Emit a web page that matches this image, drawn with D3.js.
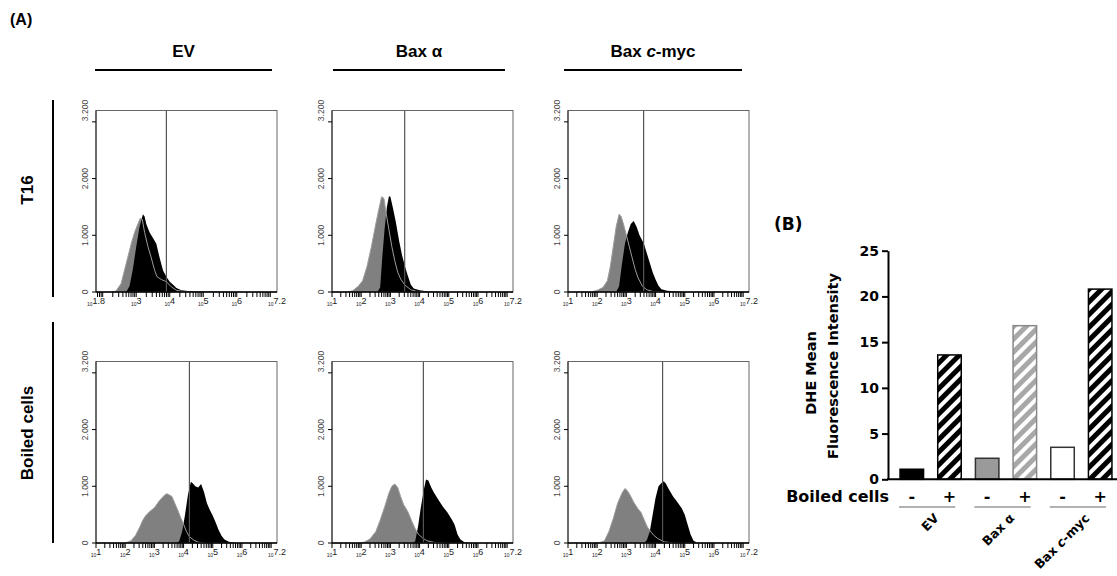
<!DOCTYPE html>
<html>
<head>
<meta charset="utf-8">
<script src="https://cdn.jsdelivr.net/npm/d3@7"></script>
<style>
  body { margin: 0; background: #fff; }
  svg { display: block; font-family: "Liberation Sans", Arial, sans-serif; }
</style>
</head>
<body>
<svg width="1117" height="576"></svg>
<script>
// ---- data: flow histograms, [log10 fluorescence, cell count] ----
const columns = ["EV", "Bax α", "Bax c-myc"];
const rows = ["T16", "Boiled cells"];
const logRanges = [[1.8, 7.2], [1, 7.2], [1, 7.2], [1, 7.2], [1, 7.2], [1, 7.2]];
const gateExp = [3.9, 3.49, 3.59, 4.2, 4.13, 4.24];
const xLabelExp = [
  [1.8, 3, 4, 5, 6, 7.2], [1, 2, 3, 4, 5, 6, 7.2], [1, 2, 3, 4, 5, 6, 7.2],
  [1, 2, 3, 4, 5, 6, 7.2], [1, 2, 3, 4, 5, 6, 7.2], [1, 2, 3, 4, 5, 6, 7.2]
];
const yTickVals = [0, 1000, 2000, 3000];
const yLabelVals = [0, 1000, 2000, 3200];
const yLabels = ["0", "1.000", "2.000", "3.200"];

const evT16Gray = [[2.3,0],[2.4,20],[2.55,150],[2.7,500],[2.85,850],[2.95,1050],[3.05,1200],[3.12,1300],[3.18,1280],[3.25,1050],[3.35,800],[3.45,600],[3.55,380],[3.62,270],[3.75,220],[3.9,180],[4.05,90],[4.2,30],[4.4,8],[4.6,0]];
const evT16Black = [[2.7,0],[2.8,100],[2.9,400],[3.0,800],[3.1,1150],[3.2,1370],[3.25,1330],[3.3,1200],[3.4,1050],[3.5,950],[3.6,850],[3.7,600],[3.8,380],[3.9,270],[4.0,180],[4.1,130],[4.2,70],[4.35,30],[4.6,15],[5.0,10],[5.5,5],[6.0,0]];
const baxT16Gray = [[1.5,0],[1.7,20],[1.9,100],[2.05,200],[2.2,450],[2.35,800],[2.5,1200],[2.6,1450],[2.7,1680],[2.78,1650],[2.85,1400],[2.95,1100],[3.05,800],[3.15,550],[3.25,350],[3.35,230],[3.5,120],[3.7,40],[3.9,10],[4.2,0]];
const baxT16Black = [[2.55,0],[2.65,80],[2.72,600],[2.8,1100],[2.88,1500],[2.95,1690],[3.0,1680],[3.08,1500],[3.18,1250],[3.3,900],[3.4,650],[3.5,450],[3.6,280],[3.7,130],[3.8,60],[4.0,30],[4.3,10],[4.8,0]];
const mycT16Gray = [[1.8,0],[2.0,30],[2.2,80],[2.35,200],[2.45,450],[2.55,800],[2.65,1150],[2.75,1370],[2.82,1330],[2.9,1200],[3.0,1000],[3.1,800],[3.2,600],[3.3,400],[3.4,250],[3.55,100],[3.7,40],[3.9,10],[4.2,0]];
const mycT16Black = [[2.65,0],[2.75,100],[2.85,500],[2.95,850],[3.05,1050],[3.15,1200],[3.25,1250],[3.35,1150],[3.45,1000],[3.6,850],[3.75,600],[3.9,350],[4.0,220],[4.1,110],[4.2,50],[4.4,20],[4.7,10],[5.0,0]];
const evBoilGray = [[2.0,0],[2.2,40],[2.35,130],[2.5,280],[2.6,400],[2.7,480],[2.85,560],[3.0,620],[3.15,730],[3.3,820],[3.42,870],[3.5,850],[3.6,820],[3.7,700],[3.8,580],[3.9,450],[4.0,330],[4.1,200],[4.2,110],[4.35,50],[4.5,15],[4.7,0]];
const evBoilBlack = [[3.75,0],[3.85,30],[3.95,200],[4.05,500],[4.15,850],[4.25,1080],[4.32,1050],[4.4,1000],[4.5,980],[4.6,1040],[4.7,900],[4.8,700],[4.9,580],[5.0,480],[5.1,360],[5.2,230],[5.3,130],[5.4,60],[5.55,20],[5.8,0]];
const baxBoilGray = [[1.9,0],[2.1,15],[2.3,70],[2.5,200],[2.65,400],[2.8,630],[2.95,880],[3.05,1000],[3.15,1040],[3.25,980],[3.35,820],[3.45,680],[3.6,550],[3.72,400],[3.85,250],[3.95,160],[4.1,90],[4.25,40],[4.5,10],[4.8,0]];
const baxBoilBlack = [[3.75,0],[3.85,30],[3.95,300],[4.05,650],[4.15,950],[4.22,1120],[4.3,1100],[4.4,980],[4.5,880],[4.65,760],[4.8,640],[4.95,540],[5.1,420],[5.2,320],[5.3,150],[5.4,60],[5.55,10],[5.8,0]];
const mycBoilGray = [[1.9,0],[2.1,10],[2.25,40],[2.4,200],[2.55,430],[2.7,700],[2.85,880],[2.95,960],[3.02,930],[3.12,850],[3.25,720],[3.4,600],[3.5,540],[3.6,420],[3.72,280],[3.85,190],[3.95,130],[4.1,70],[4.3,20],[4.6,0]];
const mycBoilBlack = [[3.6,0],[3.7,50],[3.8,200],[3.9,500],[4.0,800],[4.1,1000],[4.2,1060],[4.28,1090],[4.35,1050],[4.45,950],[4.6,820],[4.75,720],[4.9,610],[5.0,500],[5.1,320],[5.2,150],[5.3,40],[5.45,0]];

const grayHists = [evT16Gray, baxT16Gray, mycT16Gray, evBoilGray, baxBoilGray, mycBoilGray];
const blackHists = [evT16Black, baxT16Black, mycT16Black, evBoilBlack, baxBoilBlack, mycBoilBlack];

// ---- data: panel B ----
const barGroups = ["EV", "Bax α", "Bax c-myc"];
const barIds = ["EV-", "EV+", "Bax-", "Bax+", "myc-", "myc+"];
const boiledSigns = ["-", "+", "-", "+", "-", "+"];
const dheMeans = [1.1, 13.6, 2.3, 16.8, 3.5, 20.8];
const yTicksB = [0, 5, 10, 15, 20, 25];

const svg = d3.select("svg");

// hatch patterns
const defs = svg.append("defs");
function hatch(id, color) {
  const p = defs.append("pattern").attr("id", id)
    .attr("patternUnits", "userSpaceOnUse").attr("width", 9).attr("height", 9)
    .attr("patternTransform", "rotate(45)");
  p.append("rect").attr("width", 9).attr("height", 9).attr("fill", "#fff");
  p.append("rect").attr("width", 5).attr("height", 9).attr("fill", color);
}
hatch("hatchBlack", "#000");
hatch("hatchGray", "#a8a8a8");

// put "c" of c-myc in italic
function richLabel(sel, s) {
  if (s.indexOf("c-myc") >= 0) {
    sel.append("tspan").text(s.replace("c-myc", ""));
    sel.append("tspan").attr("font-style", "italic").text("c");
    sel.append("tspan").text("-myc");
  } else sel.text(s);
}

// ---- panel A ----
svg.append("text").attr("x", 10).attr("y", 25).attr("font-size", 16)
  .attr("font-weight", "bold").text("(A)");

const panelW = 181, panelH = 181.5;
const colX = [96, 332, 568], rowY = [110.5, 361.5];
const headerLines = [[95, 272], [333, 505], [564, 742]];

columns.forEach((c, i) => {
  const t = svg.append("text").attr("x", (headerLines[i][0] + headerLines[i][1]) / 2)
    .attr("y", 57).attr("text-anchor", "middle").attr("font-size", 17)
    .attr("font-weight", "bold");
  richLabel(t, c);
  svg.append("line").attr("x1", headerLines[i][0]).attr("x2", headerLines[i][1])
    .attr("y1", 70).attr("y2", 70).attr("stroke", "#000").attr("stroke-width", 2);
});

const rowLines = [[100, 297], [322, 543]];
rows.forEach((r, i) => {
  const cy = i === 0 ? 190 : 433;
  svg.append("text").attr("transform", `translate(27,${cy}) rotate(-90)`)
    .attr("text-anchor", "middle").attr("dominant-baseline", "central")
    .attr("font-size", 17).attr("font-weight", "bold").text(r);
  svg.append("line").attr("x1", 53).attr("x2", 53)
    .attr("y1", rowLines[i][0]).attr("y2", rowLines[i][1])
    .attr("stroke", "#000").attr("stroke-width", 2);
});

const yHist = d3.scaleLinear().domain([0, 3200]).range([panelH, 0]);

grayHists.forEach((gray, i) => {
  const r = Math.floor(i / 3), c = i % 3;
  const g = svg.append("g").attr("transform", `translate(${colX[c]},${rowY[r]})`);
  const x = d3.scaleLog().domain(logRanges[i].map(e => Math.pow(10, e))).range([0, panelW]);

  defs.append("clipPath").attr("id", "clip" + i)
    .append("rect").attr("width", panelW).attr("height", panelH);

  const area = d3.area().x(d => x(Math.pow(10, d[0]))).y0(yHist(0)).y1(d => yHist(d[1]));
  const line = d3.line().x(d => x(Math.pow(10, d[0]))).y(d => yHist(d[1]));

  const plot = g.append("g").attr("clip-path", `url(#clip${i})`);
  plot.append("path").attr("d", area(gray)).attr("fill", "#808080");
  plot.append("path").attr("d", area(blackHists[i])).attr("fill", "#000");
  plot.append("path").attr("d", line(gray)).attr("fill", "none")
    .attr("stroke", "#9c9c9c").attr("stroke-width", 1);

  // gate
  const gx = x(Math.pow(10, gateExp[i]));
  g.append("line").attr("x1", gx).attr("x2", gx).attr("y1", 0).attr("y2", panelH)
    .attr("stroke", "#555").attr("stroke-width", 1.2);

  // frame
  g.append("rect").attr("width", panelW).attr("height", panelH)
    .attr("fill", "none").attr("stroke", "#666").attr("stroke-width", 1);
  g.append("line").attr("x1", 0).attr("x2", 0).attr("y1", 0).attr("y2", panelH)
    .attr("stroke", "#222").attr("stroke-width", 1);
  g.append("line").attr("x1", 0).attr("x2", panelW).attr("y1", panelH).attr("y2", panelH)
    .attr("stroke", "#000").attr("stroke-width", 1.5);

  // log minor ticks
  const [lo, hi] = logRanges[i];
  const ticks = [];
  for (let k = Math.floor(lo); k <= Math.ceil(hi); k++) {
    for (let m = 1; m <= 9; m++) {
      const v = m * Math.pow(10, k);
      if (Math.log10(v) >= lo - 1e-9 && Math.log10(v) <= hi + 1e-9) ticks.push(v);
    }
  }
  g.selectAll(".xt").data(ticks).enter().append("line")
    .attr("x1", d => x(d)).attr("x2", d => x(d))
    .attr("y1", panelH).attr("y2", panelH + 5)
    .attr("stroke", "#000").attr("stroke-width", 1);

  xLabelExp[i].forEach(e => {
    const t = g.append("text").attr("x", x(Math.pow(10, e))).attr("y", panelH + 14)
      .attr("text-anchor", "middle").attr("fill", "#222");
    t.append("tspan").attr("font-size", 5).text("10");
    t.append("tspan").attr("font-size", 9).attr("dy", -2).text(e);
  });

  // y ticks
  g.selectAll(".yt").data(yTickVals).enter().append("line")
    .attr("x1", -4).attr("x2", 0).attr("y1", d => yHist(d)).attr("y2", d => yHist(d))
    .attr("stroke", "#000");
  yLabelVals.forEach((v, j) => {
    g.append("text").attr("transform", `translate(-11,${yHist(v)}) rotate(-90)`)
      .attr("text-anchor", "middle").attr("dominant-baseline", "central")
      .attr("font-size", 8.5).attr("fill", "#444").text(yLabels[j]);
  });
});

// ---- panel B ----
const bFont = "'DejaVu Sans', Verdana, sans-serif";
svg.append("text").attr("x", 774).attr("y", 230).attr("font-size", 17)
  .attr("font-weight", "bold").style("font-family", bFont).text("(B)");

const yB = d3.scaleLinear().domain([0, 25]).range([479.3, 250.7]);
const xB = d3.scaleBand().domain(barIds).range([888, 1124])
  .paddingInner(0.376).paddingOuter(0.32);

const barFill = ["#000", "url(#hatchBlack)", "#9a9a9a", "url(#hatchGray)", "#fff", "url(#hatchBlack)"];
const barStroke = ["#000", "#000", "#333", "#888", "#333", "#000"];

svg.selectAll(".bar").data(dheMeans).enter().append("rect")
  .attr("x", (d, i) => xB(barIds[i])).attr("width", xB.bandwidth())
  .attr("y", d => yB(d)).attr("height", d => yB(0) - yB(d))
  .attr("fill", (d, i) => barFill[i]).attr("stroke", (d, i) => barStroke[i])
  .attr("stroke-width", 1.5);

const axB = svg.append("g").attr("transform", "translate(888,0)")
  .call(d3.axisLeft(yB).tickValues(yTicksB).tickSize(6).tickSizeOuter(0).tickPadding(3));
axB.select(".domain").attr("stroke-width", 2);
axB.selectAll(".tick line").attr("stroke-width", 2);
axB.selectAll("text").attr("font-size", 14).attr("font-weight", "bold")
  .style("font-family", bFont).attr("fill", "#000");

svg.append("line").attr("x1", 887).attr("x2", 1117).attr("y1", yB(0)).attr("y2", yB(0))
  .attr("stroke", "#000").attr("stroke-width", 2);

svg.append("text").attr("transform", "translate(811,373) rotate(-90)")
  .attr("text-anchor", "middle").attr("dominant-baseline", "central")
  .style("font-family", bFont).attr("font-size", 14.5).attr("font-weight", "bold")
  .text("DHE Mean");
svg.append("text").attr("transform", "translate(833,366) rotate(-90)")
  .attr("text-anchor", "middle").attr("dominant-baseline", "central")
  .style("font-family", bFont).attr("font-size", 14.5).attr("font-weight", "bold")
  .text("Fluorescence Intensity");

svg.append("text").attr("x", 889).attr("y", 502).attr("text-anchor", "end")
  .style("font-family", bFont).attr("font-size", 16).attr("font-weight", "bold")
  .text("Boiled cells");
svg.selectAll(".sign").data(boiledSigns).enter().append("text")
  .attr("x", (d, i) => xB(barIds[i]) + xB.bandwidth() / 2).attr("y", 502)
  .attr("text-anchor", "middle").style("font-family", bFont)
  .attr("font-size", 16).attr("font-weight", "bold").text(d => d);

barGroups.forEach((gname, k) => {
  const a = xB(barIds[2 * k]), b = xB(barIds[2 * k + 1]) + xB.bandwidth();
  svg.append("line").attr("x1", a - 1).attr("x2", b - 6).attr("y1", 507).attr("y2", 507)
    .attr("stroke", "#666").attr("stroke-width", 1.2);
  const cx = (a + b) / 2;
  const t = svg.append("text").attr("transform", `translate(${cx + 9},${519}) rotate(-45)`)
    .attr("text-anchor", "end").style("font-family", bFont)
    .attr("font-size", 12.5).attr("font-weight", "bold");
  richLabel(t, gname);
});
</script>
</body>
</html>
